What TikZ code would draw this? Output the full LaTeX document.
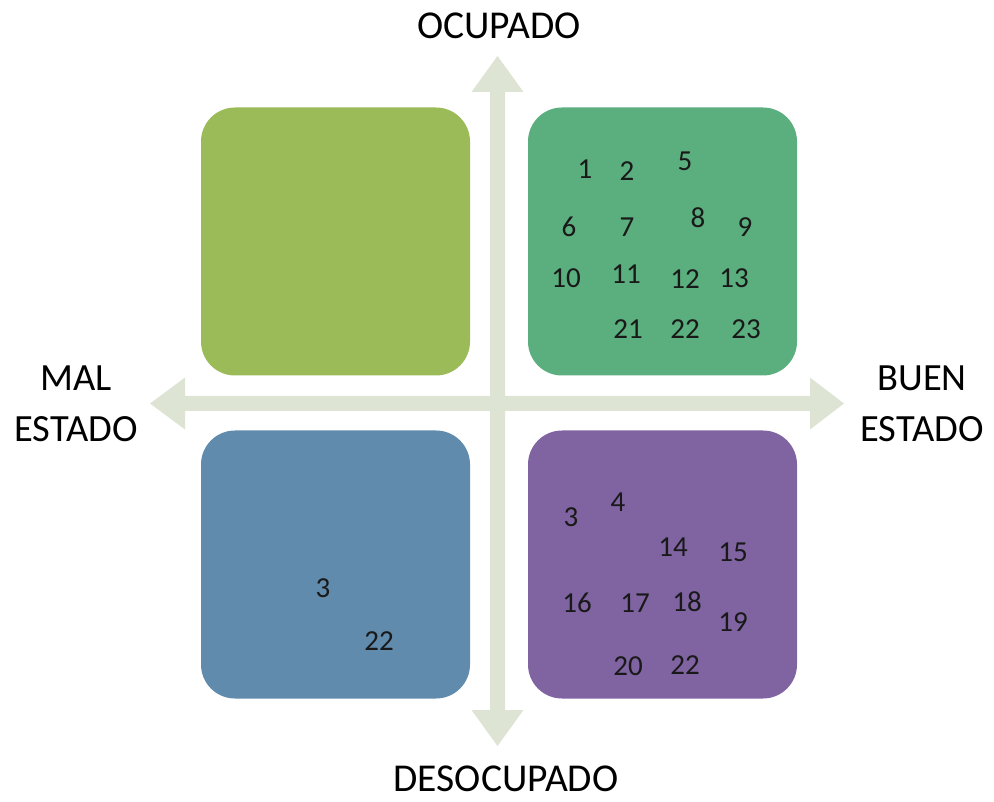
\documentclass[tikz,border=0pt]{standalone}
\usepackage{fontspec}
\setmainfont{Carlito}
\definecolor{axisc}{RGB}{221,228,212}
\definecolor{qgreen}{RGB}{155,187,89}
\definecolor{qteal}{RGB}{91,174,125}
\definecolor{qblue}{RGB}{96,139,173}
\definecolor{qpurple}{RGB}{128,100,162}
\definecolor{numc}{RGB}{25,25,25}
\begin{document}
\begin{tikzpicture}[x=1pt,y=-1pt,
  quad/.style={fill=#1, draw=none, rounded corners=34pt, minimum width=269pt, minimum height=268pt, inner sep=0pt},
  num/.style={font=\fontsize{29}{32}\selectfont, text=numc, inner sep=0pt},
  lab/.style={font=\fontsize{39.5}{48}\selectfont, align=center, inner sep=0pt, text=black},
  sidelab/.style={font=\fontsize{38.5}{51}\selectfont, align=center, inner sep=0pt, text=black}]
\useasboundingbox (0,0) rectangle (994,802);
% axes
\fill[axisc] (490,92) -- (471.5,92) -- (497.5,56) -- (523.5,92) -- (505,92)
  -- (505,710) -- (523.5,710) -- (497.5,746) -- (471.5,710) -- (490,710) -- cycle;
\fill[axisc] (185,396) -- (185,377.5) -- (150,403.5) -- (185,429.5) -- (185,411)
  -- (810,411) -- (810,429.5) -- (844,403.5) -- (810,377.5) -- (810,396) -- cycle;
% quadrants
\node[quad=qgreen]  (q1) at (335.5,241.5) {};
\node[quad=qteal]   (q2) at (662.5,241.5) {};
\node[quad=qblue]   (q3) at (335.5,564.5) {};
\node[quad=qpurple] (q4) at (662.5,564.5) {};
% axis labels
\node[lab] (top) at (499,26) {OCUPADO};
\node[lab] (bot) at (506,779) {DESOCUPADO};
\node[sidelab] (left) at (76,403.5) {MAL\\ESTADO};
\node[sidelab] (right) at (922,403.5) {BUEN\\ESTADO};
% top-right numbers
\node[num] (a1)  at (585,169) {1};
\node[num] (a2)  at (627,171) {2};
\node[num] (a5)  at (685,161) {5};
\node[num] (a6)  at (569,227) {6};
\node[num] (a7)  at (627,227) {7};
\node[num] (a8)  at (698,218) {8};
\node[num] (a9)  at (745,227) {9};
\node[num] (a10) at (566,278) {10};
\node[num] (a11) at (626,274) {11};
\node[num] (a12) at (685,279) {12};
\node[num] (a13) at (734,278) {13};
\node[num] (a21) at (628,329) {21};
\node[num] (a22) at (685,329) {22};
\node[num] (a23) at (746,329) {23};
% bottom-left numbers
\node[num] (b3)  at (323,588) {3};
\node[num] (b22) at (379,641) {22};
% bottom-right numbers
\node[num] (c3)  at (571,517) {3};
\node[num] (c4)  at (618,502) {4};
\node[num] (c14) at (673,547) {14};
\node[num] (c15) at (733,552) {15};
\node[num] (c16) at (577,603) {16};
\node[num] (c17) at (635,603) {17};
\node[num] (c18) at (687,602) {18};
\node[num] (c19) at (733,622) {19};
\node[num] (c20) at (628,666) {20};
\node[num] (c22) at (685,665) {22};
\end{tikzpicture}
\end{document}
